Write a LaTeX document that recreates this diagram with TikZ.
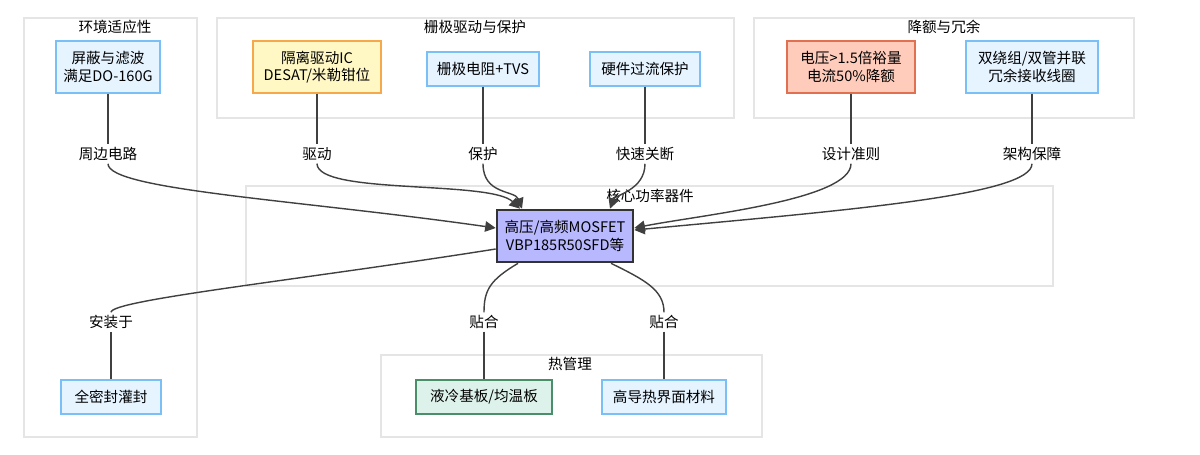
\documentclass[tikz,border=0pt]{standalone}
\usepackage{fontspec}
\setmainfont{Noto Sans CJK SC}
\usetikzlibrary{arrows.meta,positioning}
\definecolor{boxBlue}{HTML}{E6F4FF}
\definecolor{lineBlue}{HTML}{7ABFF5}
\definecolor{boxYellow}{HTML}{FFF8C4}
\definecolor{lineOrange}{HTML}{F5A94A}
\definecolor{boxRed}{HTML}{FFCCBB}
\definecolor{lineRed}{HTML}{E07050}
\definecolor{boxCore}{HTML}{B8B8FF}
\definecolor{boxGreen}{HTML}{DDF2EA}
\definecolor{lineGreen}{HTML}{4A8F6A}
\tikzset{
	grp/.style={draw=black!10,line width=.6pt},
	grpTitle/.style={font=\fontsize{8.3}{10}\selectfont},
	comp/.style={draw=lineBlue,fill=boxBlue,line width=.6pt,align=center,font=\fontsize{8.3}{10}\selectfont,inner sep=0pt},
	edgeLbl/.style={fill=white,font=\fontsize{8.3}{10}\selectfont,inner sep=1.5pt},
	link/.style={draw=black!75,line width=.8pt},
	arr/.style={link,-{Triangle[length=6pt,width=6pt]}},
}
\begin{document}
\begin{tikzpicture}[x=0.02cm,y=-0.02cm]
\useasboundingbox (0,0) rectangle (1200,454);
% groups
\draw[grp] (24,18) rectangle (197,437);
\node[grpTitle] (tEnv) at (115,27) {环境适应性};
\draw[grp] (217,18) rectangle (734,118);
\node[grpTitle] (tGate) at (475,27) {栅极驱动与保护};
\draw[grp] (754,18) rectangle (1134,118);
\node[grpTitle] (tDer) at (944,27) {降额与冗余};
\draw[grp] (246,186) rectangle (1053,286);
\node[grpTitle] (tCore) at (650,196) {核心功率器件};
\draw[grp] (381,355) rectangle (762,437);
\node[grpTitle] (tTherm) at (570,364) {热管理};
% nodes
\node[comp,minimum width=104*0.02cm,minimum height=52*0.02cm] (shield) at (108,67) {屏蔽与滤波\\满足DO-160G};
\node[comp,draw=lineOrange,fill=boxYellow,minimum width=128*0.02cm,minimum height=52*0.02cm] (iso) at (317,67) {隔离驱动IC\\DESAT/米勒钳位};
\node[comp,minimum width=112*0.02cm,minimum height=34*0.02cm] (gateR) at (483,69) {栅极电阻+TVS};
\node[comp,minimum width=110*0.02cm,minimum height=34*0.02cm] (hwOc) at (645,69) {硬件过流保护};
\node[comp,draw=lineRed,fill=boxRed,minimum width=128*0.02cm,minimum height=52*0.02cm] (derate) at (851,67) {电压>1.5倍裕量\\电流50\%降额};
\node[comp,minimum width=132*0.02cm,minimum height=52*0.02cm] (redund) at (1032,67) {双绕组/双管并联\\冗余接收线圈};
\node[comp,draw=black!80,fill=boxCore,line width=1.5pt,minimum width=136*0.02cm,minimum height=52*0.02cm] (mosfet) at (565,236) {高压/高频MOSFET\\VBP185R50SFD等};
\node[comp,minimum width=100*0.02cm,minimum height=34*0.02cm] (pot) at (111,397) {全密封灌封};
\node[comp,draw=lineGreen,fill=boxGreen,minimum width=136*0.02cm,minimum height=34*0.02cm] (cold) at (484,397) {液冷基板/均温板};
\node[comp,minimum width=124*0.02cm,minimum height=34*0.02cm] (tim) at (664,397) {高导热界面材料};
% edge labels
\node[edgeLbl] (lPer) at (108,154) {周边电路};
\node[edgeLbl] (lDrv) at (317,154) {驱动};
\node[edgeLbl] (lPro) at (483,154) {保护};
\node[edgeLbl] (lOff) at (645,154) {快速关断};
\node[edgeLbl] (lDes) at (851,154) {设计准则};
\node[edgeLbl] (lArc) at (1032,154) {架构保障};
\node[edgeLbl] (lMnt) at (111,322) {安装于};
\node[edgeLbl] (lFitA) at (484,322) {贴合};
\node[edgeLbl] (lFitB) at (664,322) {贴合};
% connectors
\draw[link] (shield) -- (lPer);
\draw[arr] (lPer) .. controls (108,190) and (300,200) .. (mosfet.west |- 0,228);
\draw[link] (iso) -- (lDrv);
\draw[arr] (lDrv) .. controls (317,195) and (490,180) .. (mosfet.north -| 520,0);
\draw[link] (gateR) -- (lPro);
\draw[arr] (lPro) .. controls (483,195) and (515,190) .. (mosfet.north -| 522,0);
\draw[link] (hwOc) -- (lOff);
\draw[arr] (lOff) .. controls (645,190) and (615,195) .. (mosfet.north -| 610,0);
\draw[link] (derate) -- (lDes);
\draw[arr] (lDes) .. controls (851,200) and (700,215) .. (mosfet.east |- 0,228);
\draw[link] (redund) -- (lArc);
\draw[arr] (lArc) .. controls (1032,195) and (850,210) .. (mosfet.east |- 0,230);
\draw[link] (mosfet.west |- 0,249) .. controls (300,280) and (111,300) .. (lMnt);
\draw[link] (lMnt) -- (pot);
\draw[link] (mosfet.south -| 518,0) .. controls (490,280) and (484,290) .. (lFitA);
\draw[link] (lFitA) -- (cold);
\draw[link] (mosfet.south -| 611,0) .. controls (645,280) and (664,290) .. (lFitB);
\draw[link] (lFitB) -- (tim);
\end{tikzpicture}
\end{document}
